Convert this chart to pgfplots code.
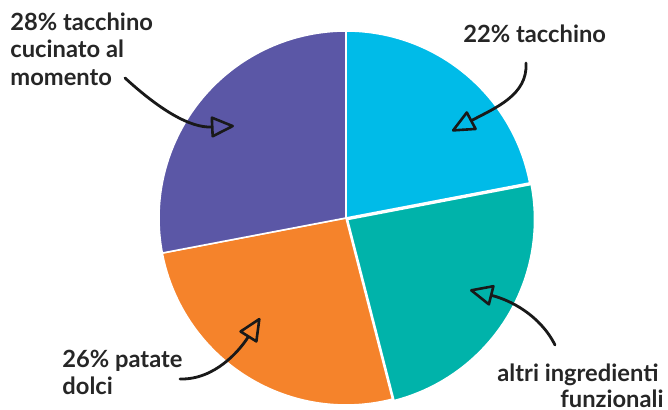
\documentclass[border=0pt]{standalone}
\usepackage{fontspec}
\setmainfont{Lato}
\usepackage{pgfplots}
\pgfplotsset{compat=1.18}
\usetikzlibrary{arrows.meta}

\definecolor{cBlue}{HTML}{00BBE8}
\definecolor{cTeal}{HTML}{00B3AA}
\definecolor{cOrange}{HTML}{F5832B}
\definecolor{cPurple}{HTML}{5B57A6}

% share (%) / colour / shift x / shift y  (clockwise from 12 o'clock)
\def\slices{22/cBlue/0/0,24/cTeal/1.5/1.5,26/cOrange/0/0,28/cPurple/0/0}

\begin{document}
\begin{tikzpicture}[
    lbl/.style={anchor=base west, font=\bfseries\fontsize{11.9}{13}\selectfont, text=black!85, inner sep=0pt},
    arr/.style={line width=1.4bp, black!90, line cap=round,
        -{Triangle[open, round, length=12.5bp, width=11bp, line width=1.3bp]}}
]
\begin{axis}[
    x=0.5bp, y=0.5bp,
    xmin=0, xmax=668, ymin=0, ymax=410,
    y dir=reverse,
    hide axis, clip=false,
    scale only axis
]
\pgfmathsetmacro\start{90}
\foreach \v/\c/\dx/\dy in \slices {
    \pgfmathsetmacro\e{\start-3.6*\v}
    \pgfmathsetmacro\cx{346+\dx}
    \pgfmathsetmacro\cy{218+\dy}
    \edef\temp{\noexpand\fill[\c, draw=white, line width=0.8bp, line join=round]
        (axis cs:\cx,\cy) -- ++(\start:93.5bp)
        arc[start angle=\start, end angle=\e, radius=93.5bp] -- cycle;}
    \temp
    \global\let\start\e
}

% labels
\node[lbl] at (axis cs:10,31) {28\% tacchino};
\node[lbl] at (axis cs:10,58) {cucinato al};
\node[lbl] at (axis cs:10,86) {momento};
\node[lbl] at (axis cs:463,43) {22\% tacchino};
\node[lbl] at (axis cs:497,382) {altri ingredienti};
\node[lbl] at (axis cs:560,408) {funzionali};
\node[lbl] at (axis cs:62,368) {26\% patate};
\node[lbl] at (axis cs:62,395) {dolci};

% arrows
\draw[arr] (axis cs:125,78) .. controls (axis cs:160,110) and (axis cs:190,128) .. (axis cs:234,126);
\draw[arr] (axis cs:526,63) .. controls (axis cs:528,95) and (axis cs:495,108) .. (axis cs:452,131);
\draw[arr] (axis cs:555,345) .. controls (axis cs:540,315) and (axis cs:510,300) .. (axis cs:470,290);
\draw[arr] (axis cs:180,379) .. controls (axis cs:215,380) and (axis cs:240,350) .. (axis cs:260,318);
\end{axis}
\pgfresetboundingbox
\path (current axis.south west) rectangle (current axis.north east);
\end{tikzpicture}
\end{document}
